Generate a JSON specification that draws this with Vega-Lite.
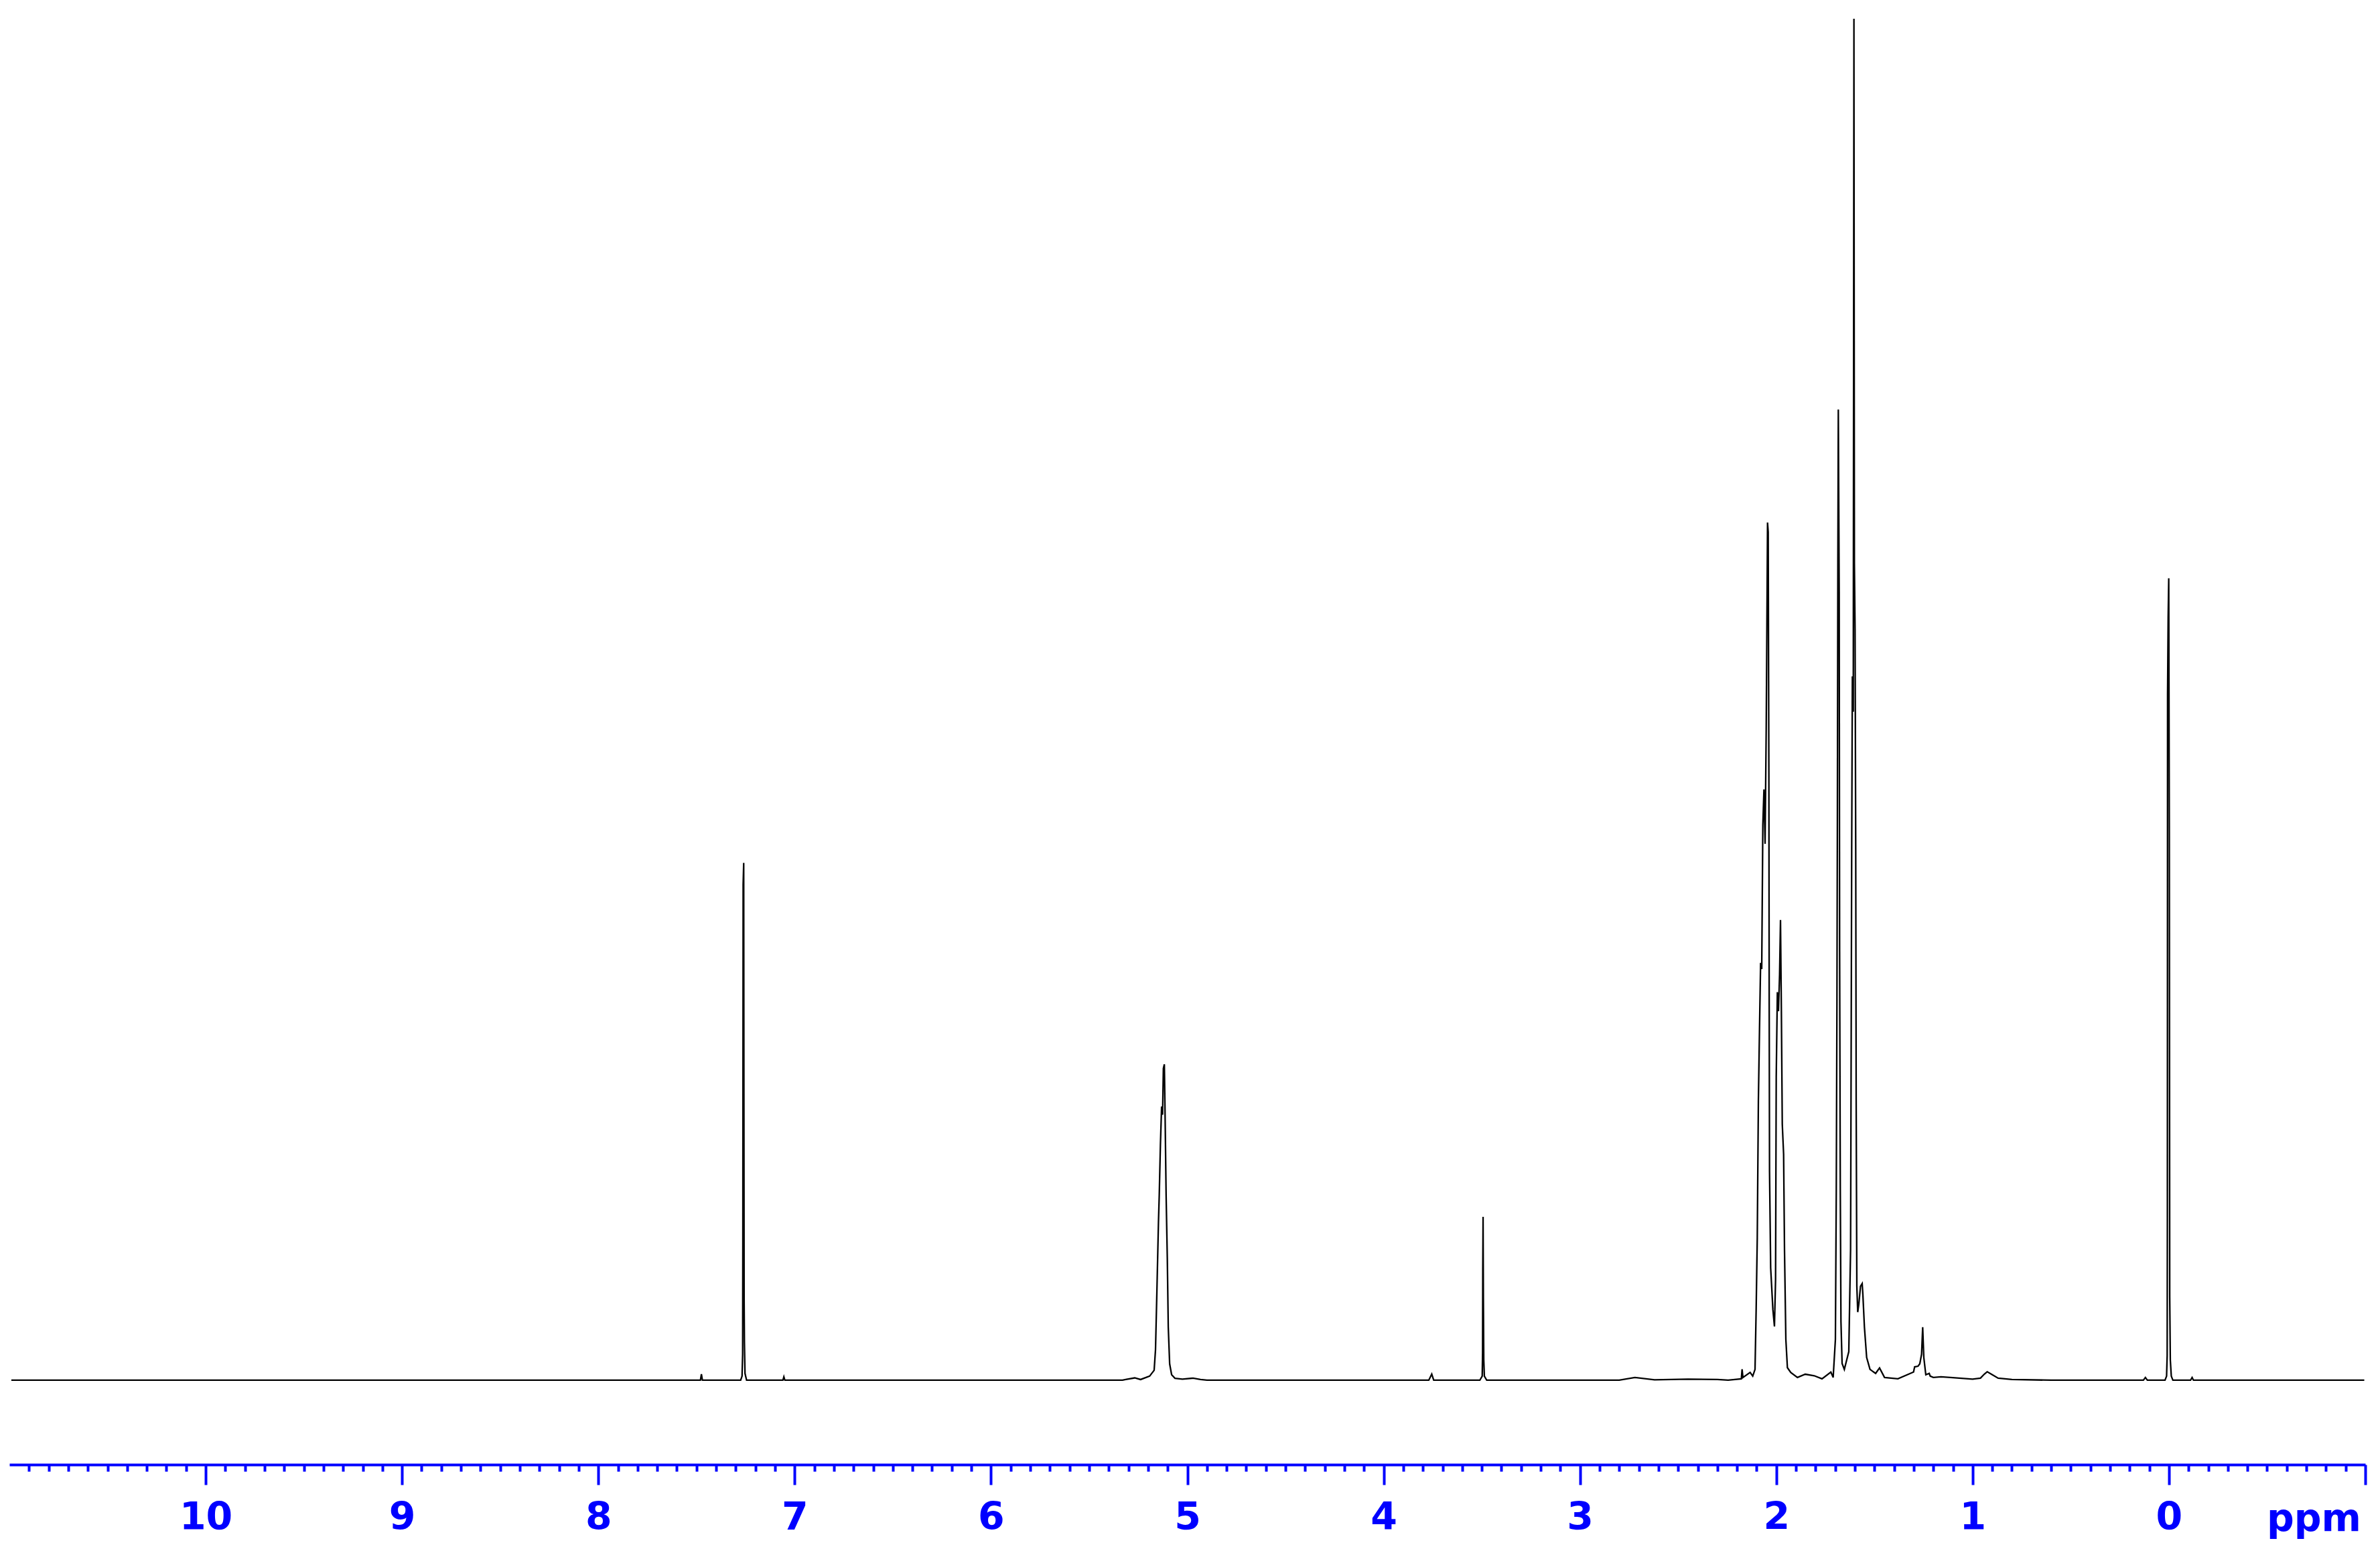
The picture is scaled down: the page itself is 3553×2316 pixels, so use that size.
{
  "$schema": "https://vega.github.io/schema/vega-lite/v6.json",
  "autosize": {"type": "none"},
  "padding": {"left": 14, "top": 0, "right": 22, "bottom": 129},
  "width": 3517,
  "height": 2187,
  "background": "white",
  "config": {"view": {"stroke": null}},
  "data": {"values": [
    {"ppm": 10.99, "v": 0}, {"ppm": 9.0, "v": 0}, {"ppm": 7.5, "v": 0},
    {"ppm": 7.48, "v": 0}, {"ppm": 7.475, "v": 0.45}, {"ppm": 7.47, "v": 0},
    {"ppm": 7.3, "v": 0}, {"ppm": 7.275, "v": 0}, {"ppm": 7.268, "v": 0.3}, {"ppm": 7.265, "v": 1.9},
    {"ppm": 7.264, "v": 10.2}, {"ppm": 7.2625, "v": 36.4}, {"ppm": 7.2596, "v": 38.0}, {"ppm": 7.2585, "v": 20},
    {"ppm": 7.2575, "v": 6}, {"ppm": 7.256, "v": 2.8}, {"ppm": 7.253, "v": 0.5}, {"ppm": 7.245, "v": 0},
    {"ppm": 7.06, "v": 0}, {"ppm": 7.055, "v": 0.25}, {"ppm": 7.05, "v": 0},
    {"ppm": 5.33, "v": 0}, {"ppm": 5.314, "v": 0.05}, {"ppm": 5.268, "v": 0.17}, {"ppm": 5.238, "v": 0.05},
    {"ppm": 5.192, "v": 0.3}, {"ppm": 5.169, "v": 0.73}, {"ppm": 5.162, "v": 2.25}, {"ppm": 5.155, "v": 6.5},
    {"ppm": 5.147, "v": 11.6}, {"ppm": 5.143, "v": 13.6}, {"ppm": 5.137, "v": 17.3}, {"ppm": 5.131, "v": 20.1},
    {"ppm": 5.126, "v": 19.5}, {"ppm": 5.122, "v": 22.9}, {"ppm": 5.117, "v": 23.2}, {"ppm": 5.113, "v": 19.2},
    {"ppm": 5.108, "v": 13.6}, {"ppm": 5.102, "v": 9.0}, {"ppm": 5.097, "v": 3.9}, {"ppm": 5.09, "v": 1.2},
    {"ppm": 5.08, "v": 0.4}, {"ppm": 5.063, "v": 0.14}, {"ppm": 5.025, "v": 0.08}, {"ppm": 4.971, "v": 0.15},
    {"ppm": 4.933, "v": 0.05}, {"ppm": 4.9, "v": 0},
    {"ppm": 3.77, "v": 0}, {"ppm": 3.755, "v": 0.45}, {"ppm": 3.745, "v": 0},
    {"ppm": 3.51, "v": 0}, {"ppm": 3.498, "v": 0.3}, {"ppm": 3.496, "v": 2}, {"ppm": 3.495, "v": 8},
    {"ppm": 3.4935, "v": 12.0}, {"ppm": 3.492, "v": 6}, {"ppm": 3.49, "v": 1.5}, {"ppm": 3.487, "v": 0.3},
    {"ppm": 3.475, "v": 0},
    {"ppm": 2.8, "v": 0}, {"ppm": 2.72, "v": 0.2}, {"ppm": 2.62, "v": 0.03}, {"ppm": 2.45, "v": 0.08},
    {"ppm": 2.3, "v": 0.05}, {"ppm": 2.245, "v": 0},
    {"ppm": 2.178, "v": 0.1}, {"ppm": 2.1742, "v": 0.8}, {"ppm": 2.17, "v": 0.2}, {"ppm": 2.1333, "v": 0.57},
    {"ppm": 2.12, "v": 0.3}, {"ppm": 2.1083, "v": 0.79}, {"ppm": 2.1026, "v": 5.18}, {"ppm": 2.0969, "v": 10.45},
    {"ppm": 2.0912, "v": 20.55}, {"ppm": 2.0855, "v": 25.8}, {"ppm": 2.0799, "v": 30.65}, {"ppm": 2.0742, "v": 30.2},
    {"ppm": 2.0685, "v": 40.8}, {"ppm": 2.0628, "v": 43.4}, {"ppm": 2.0571, "v": 39.4}, {"ppm": 2.0514, "v": 47.8},
    {"ppm": 2.048, "v": 55.2}, {"ppm": 2.0446, "v": 63.0}, {"ppm": 2.0412, "v": 62.3}, {"ppm": 2.0378, "v": 44.7},
    {"ppm": 2.0361, "v": 27.6}, {"ppm": 2.0344, "v": 15.3}, {"ppm": 2.0287, "v": 8.26}, {"ppm": 2.0173, "v": 5.18},
    {"ppm": 2.0094, "v": 3.95}, {"ppm": 2.0037, "v": 7.4}, {"ppm": 2.0003, "v": 22.3}, {"ppm": 1.9946, "v": 28.5},
    {"ppm": 1.9889, "v": 27.1}, {"ppm": 1.9832, "v": 29.8}, {"ppm": 1.9786, "v": 33.8}, {"ppm": 1.9741, "v": 27.1},
    {"ppm": 1.9695, "v": 18.8}, {"ppm": 1.9627, "v": 16.6}, {"ppm": 1.9582, "v": 9.6}, {"ppm": 1.9513, "v": 3.0},
    {"ppm": 1.9434, "v": 0.92}, {"ppm": 1.9263, "v": 0.57}, {"ppm": 1.8922, "v": 0.2}, {"ppm": 1.8524, "v": 0.44},
    {"ppm": 1.807, "v": 0.33}, {"ppm": 1.7671, "v": 0.1}, {"ppm": 1.722, "v": 0.6}, {"ppm": 1.7103, "v": 0.2},
    {"ppm": 1.6989, "v": 3.0}, {"ppm": 1.6944, "v": 14.0}, {"ppm": 1.691, "v": 28.0}, {"ppm": 1.6887, "v": 42.1},
    {"ppm": 1.6864, "v": 60.1}, {"ppm": 1.6841, "v": 71.3}, {"ppm": 1.6796, "v": 57.9}, {"ppm": 1.6774, "v": 31.5},
    {"ppm": 1.674, "v": 14.0}, {"ppm": 1.6706, "v": 4.3}, {"ppm": 1.6648, "v": 1.23}, {"ppm": 1.6534, "v": 0.79},
    {"ppm": 1.6307, "v": 2.1}, {"ppm": 1.6216, "v": 9.6}, {"ppm": 1.6193, "v": 21.0}, {"ppm": 1.6159, "v": 39.0},
    {"ppm": 1.6125, "v": 51.7}, {"ppm": 1.6079, "v": 49.1}, {"ppm": 1.6045, "v": 100}, {"ppm": 1.6022, "v": 60},
    {"ppm": 1.5988, "v": 55.2}, {"ppm": 1.5954, "v": 39.0}, {"ppm": 1.5931, "v": 20.6}, {"ppm": 1.5897, "v": 6.9},
    {"ppm": 1.5852, "v": 5.0}, {"ppm": 1.5795, "v": 5.6}, {"ppm": 1.571, "v": 6.9}, {"ppm": 1.5625, "v": 7.1},
    {"ppm": 1.559, "v": 6.3}, {"ppm": 1.5511, "v": 3.9}, {"ppm": 1.5397, "v": 1.67}, {"ppm": 1.5226, "v": 0.79},
    {"ppm": 1.494, "v": 0.5}, {"ppm": 1.474, "v": 0.9}, {"ppm": 1.4487, "v": 0.2}, {"ppm": 1.3805, "v": 0.1},
    {"ppm": 1.3009, "v": 0.6}, {"ppm": 1.2953, "v": 0.98}, {"ppm": 1.278, "v": 1.03}, {"ppm": 1.2691, "v": 1.2},
    {"ppm": 1.26, "v": 1.9}, {"ppm": 1.2543, "v": 3.9}, {"ppm": 1.2486, "v": 1.67}, {"ppm": 1.2384, "v": 0.4},
    {"ppm": 1.221, "v": 0.5}, {"ppm": 1.216, "v": 0.3}, {"ppm": 1.2, "v": 0.2}, {"ppm": 1.161, "v": 0.25},
    {"ppm": 1.113, "v": 0.2}, {"ppm": 1.0, "v": 0.08}, {"ppm": 0.96, "v": 0.15}, {"ppm": 0.94, "v": 0.45},
    {"ppm": 0.9256, "v": 0.62}, {"ppm": 0.9, "v": 0.4}, {"ppm": 0.87, "v": 0.15}, {"ppm": 0.8, "v": 0.05},
    {"ppm": 0.6, "v": 0}, {"ppm": 0.2, "v": 0}, {"ppm": 0.13, "v": 0}, {"ppm": 0.12, "v": 0.2}, {"ppm": 0.11, "v": 0},
    {"ppm": 0.02, "v": 0}, {"ppm": 0.012, "v": 0.3}, {"ppm": 0.009, "v": 1.8}, {"ppm": 0.008, "v": 12},
    {"ppm": 0.007, "v": 50.4}, {"ppm": 0.004, "v": 56}, {"ppm": 0.001, "v": 58.9}, {"ppm": -0.002, "v": 40},
    {"ppm": -0.004, "v": 6.1}, {"ppm": -0.007, "v": 1.5}, {"ppm": -0.012, "v": 0.3}, {"ppm": -0.02, "v": 0},
    {"ppm": -0.11, "v": 0}, {"ppm": -0.118, "v": 0.2}, {"ppm": -0.125, "v": 0}, {"ppm": -0.995, "v": 0}
  ]},
  "mark": {"type": "line", "color": "black", "strokeWidth": 2.3, "clip": false},
  "encoding": {
    "x": {
      "field": "ppm",
      "type": "quantitative",
      "scale": {"domain": [11, -1], "nice": false, "zero": false},
      "axis": {
        "values": [10.9,10.8,10.7,10.6,10.5,10.4,10.3,10.2,10.1,10,9.9,9.8,9.7,9.6,9.5,9.4,9.3,9.2,9.1,9,8.9,8.8,8.7,8.6,8.5,8.4,8.3,8.2,8.1,8,7.9,7.8,7.7,7.6,7.5,7.4,7.3,7.2,7.1,7,6.9,6.8,6.7,6.6,6.5,6.4,6.3,6.2,6.1,6,5.9,5.8,5.7,5.6,5.5,5.4,5.3,5.2,5.1,5,4.9,4.8,4.7,4.6,4.5,4.4,4.3,4.2,4.1,4,3.9,3.8,3.7,3.6,3.5,3.4,3.3,3.2,3.1,3,2.9,2.8,2.7,2.6,2.5,2.4,2.3,2.2,2.1,2,1.9,1.8,1.7,1.6,1.5,1.4,1.3,1.2,1.1,1,0.9,0.8,0.7,0.6,0.5,0.4,0.3,0.2,0.1,0,-0.1,-0.2,-0.3,-0.4,-0.5,-0.6,-0.7,-0.8,-0.9,-1],
        "grid": false,
        "domainColor": "#0000FF",
        "domainWidth": 4,
        "tickColor": "#0000FF",
        "tickWidth": 4,
        "tickSize": {"condition": {"test": "abs(datum.value - round(datum.value)) < 0.001", "value": 30}, "value": 10},
        "labelExpr": "abs(datum.value - round(datum.value)) < 0.001 && datum.value >= -0.001 ? format(round(datum.value), 'd') : ''",
        "labelFont": "DejaVu Sans",
        "labelFontWeight": "bold",
        "labelFontSize": 57,
        "labelColor": "#0000FF",
        "labelPadding": 21,
        "labelOverlap": false,
        "labelFlush": false,
        "labelBound": false,
        "title": "ppm",
        "titleFont": "DejaVu Sans",
        "titleFontWeight": "bold",
        "titleFontSize": 57,
        "titleColor": "#0000FF",
        "titleX": 3440,
        "titleY": 98,
        "titleAlign": "center",
        "titleBaseline": "alphabetic"
      }
    },
    "y": {
      "field": "v",
      "type": "quantitative",
      "scale": {"domain": [-6.2, 101.38], "nice": false, "zero": false},
      "axis": null
    }
  }
}
